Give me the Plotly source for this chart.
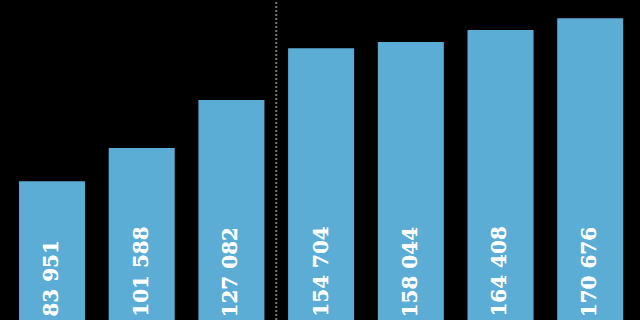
import plotly.graph_objects as go

categories = ["C1", "C2", "C3", "C4", "C5", "C6", "C7"]
values = [83951, 101588, 127082, 154704, 158044, 164408, 170676]
labels = [f"{v:,}".replace(",", " ") for v in values]

bar_color = "#5badd6"

fig = go.Figure()
fig.add_trace(go.Bar(
    x=categories, y=values, marker=dict(color=bar_color, line=dict(width=0)),
    hoverinfo="skip",
))

for c, v, t in zip(categories, values, labels):
    fig.add_annotation(
        x=c, y=12200, xref="x", yref="y", text=f"<b>{t}</b>", textangle=-90,
        showarrow=False, yanchor="bottom", xanchor="center", yshift=-3, xshift=-1,
        font=dict(family="DejaVu Serif", size=20, color="white",
                  shadow="0px 0px 0.6px white"),
    )

fig.add_shape(type="line", xref="x", yref="paper", x0=2.5, x1=2.5, y0=0, y1=1,
              line=dict(color="#777777", width=2, dash="2px,2px"), layer="below")

fig.update_layout(
    width=640, height=320, margin=dict(l=0, r=0, t=0, b=0),
    paper_bgcolor="black", plot_bgcolor="black", bargap=0.264, showlegend=False,
    xaxis=dict(visible=False, range=[-0.58, 6.555]),
    yaxis=dict(visible=False, range=[10108, 180348]),
)
fig.write_html("out.html")
